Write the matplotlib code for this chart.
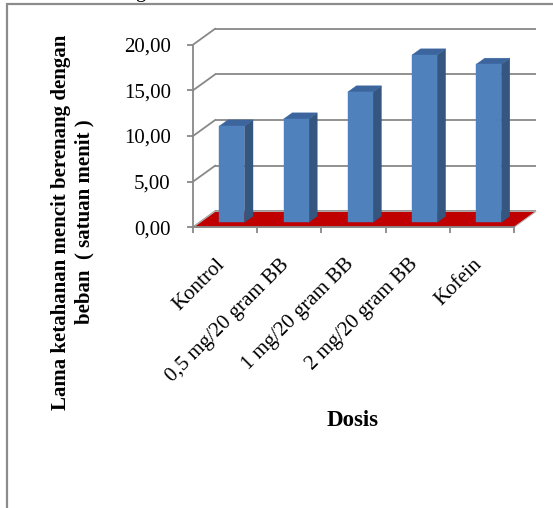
import numpy as np
import matplotlib.pyplot as plt
from matplotlib.patches import Polygon, Rectangle
from matplotlib.transforms import ScaledTranslation

plt.rcParams['font.family'] = ['Liberation Serif', 'DejaVu Serif']

dosis = ['Kontrol', '0,5 mg/20 gram BB', '1 mg/20 gram BB', '2 mg/20 gram BB', 'Kofein']
lama = [10.55, 11.32, 14.28, 18.33, 17.31]
y_ticks = [0, 5, 10, 15, 20]

# oblique depth of the 3-D box (data units) and bar placement inside it
DX, DY = 0.345, 1.75
BAR_W = 0.39
Z0, Z1 = 0.31, 0.694

GRID = '#888888'
FRONT, SIDE, TOP = '#4F81BD', '#34567F', '#3C659E'

W, H = 553, 508
fig = plt.figure(figsize=(W / 100, H / 100), dpi=100)


def px_box(x0, y0, x1, y1):
    # pixel box (origin top-left) -> figure fraction rect
    return [x0 / W, 1 - y1 / H, (x1 - x0) / W, (y1 - y0) / H]


ppx, ppy = 64.2, 9.13
xlim, ylim = (-0.2, 5.5), (-1, 22)
ax = fig.add_axes(px_box(193 + xlim[0] * ppx, 227.3 - ylim[1] * ppy,
                         193 + xlim[1] * ppx, 227.3 - ylim[0] * ppy))
ax.set_xlim(*xlim)
ax.set_ylim(*ylim)
ax.patch.set_visible(False)

n = len(dosis)

# back wall and side wall grid
for v in y_ticks:
    ax.plot([DX, n + DX], [v + DY, v + DY], color=GRID, lw=1.3, zorder=1,
            solid_capstyle='butt')
    ax.plot([0, DX], [v, v + DY], color=GRID, lw=1.3, zorder=1)

# floor
ax.add_patch(Polygon([(0, 0), (n, 0), (n + DX, DY), (DX, DY)], closed=True,
                     fc='#C00000', ec='#b4b4b4', lw=0.8, zorder=2))

# bars
ddx, ddy = (Z1 - Z0) * DX, (Z1 - Z0) * DY
for i, v in enumerate(lama):
    fx = i + (1 - BAR_W) / 2 + Z0 * DX
    fy = Z0 * DY
    ax.add_patch(Polygon([(fx + BAR_W, fy), (fx + BAR_W + ddx, fy + ddy),
                          (fx + BAR_W + ddx, fy + ddy + v), (fx + BAR_W, fy + v)],
                         closed=True, fc=SIDE, ec=SIDE, lw=0.3, zorder=3))
    ax.add_patch(Polygon([(fx, fy + v), (fx + BAR_W, fy + v),
                          (fx + BAR_W + ddx, fy + v + ddy), (fx + ddx, fy + v + ddy)],
                         closed=True, fc=TOP, ec=TOP, lw=0.3, zorder=3))
    ax.add_patch(Rectangle((fx, fy), BAR_W, v, fc=FRONT, ec=FRONT, lw=0.3, zorder=4))

# axes lines
for side in ['top', 'right']:
    ax.spines[side].set_visible(False)
ax.spines['left'].set_position(('data', 0))
ax.spines['bottom'].set_position(('data', 0))
ax.spines['left'].set_bounds(0, 20)
ax.spines['bottom'].set_bounds(0, n)
for side in ['left', 'bottom']:
    ax.spines[side].set_color(GRID)
    ax.spines[side].set_linewidth(1.3)
    ax.spines[side].set_zorder(5)

ax.set_yticks(y_ticks, [f'{t:.2f}'.replace('.', ',') for t in y_ticks])
ax.tick_params(axis='y', length=4, width=1.3, color=GRID, pad=12, labelsize=15)

ax.set_xticks(np.arange(n + 1), [''] * (n + 1))
ax.set_xticks(np.arange(n) + 0.5, dosis, minor=True)
ax.tick_params(axis='x', which='major', length=4, width=1.3, color=GRID)
ax.tick_params(axis='x', which='minor', length=0, pad=20, labelsize=15)
shift = ScaledTranslation(0.04, 0, fig.dpi_scale_trans)
for lab in ax.get_xticklabels(minor=True):
    lab.set_rotation(45)
    lab.set_ha('right')
    lab.set_transform(lab.get_transform() + shift)

fig.text(72.5 / W, 1 - 222 / H,
         'Lama ketahanan mencit berenang dengan\nbeban  ( satuan menit )',
         rotation=90, ha='center', va='center', multialignment='center',
         fontsize=15, fontweight='bold', linespacing=1.2)
fig.text(353 / W, 1 - 421 / H, 'Dosis', ha='center', va='center',
         fontsize=16.5, fontweight='bold')

# chart frame (runs past the right and bottom edges) and the caption line above it
fig.add_artist(Rectangle((6.5 / W, -0.2), 1.5, 1.2 - 4 / H, transform=fig.transFigure,
                         fill=False, ec='#8c8c8c', lw=1.6))
fig.text(135 / W, 1 + 3 / H, 'g', fontsize=15, ha='left', va='baseline')

fig.savefig('out.png', dpi=100)
